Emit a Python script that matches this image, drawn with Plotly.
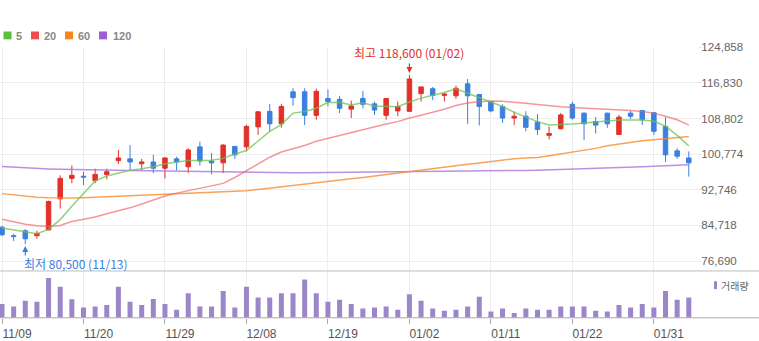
import plotly.graph_objects as go

# Trading days shown on the chart (MM/DD)
dates = [
    "11/09", "11/10", "11/13", "11/14", "11/15", "11/16", "11/17",
    "11/20", "11/21", "11/22", "11/23", "11/24", "11/27", "11/28",
    "11/29", "11/30", "12/01", "12/04", "12/05", "12/06", "12/07",
    "12/08", "12/11", "12/12", "12/13", "12/14", "12/15", "12/18",
    "12/19", "12/20", "12/21", "12/22", "12/26", "12/27", "12/28",
    "01/02", "01/03", "01/04", "01/05", "01/08", "01/09", "01/10",
    "01/11", "01/12", "01/15", "01/16", "01/17", "01/18", "01/19",
    "01/22", "01/23", "01/24", "01/25", "01/26", "01/29", "01/30",
    "01/31", "02/01", "02/02", "02/05",
]

opens = [
    84300, 82400, 83500, 82400, 83700, 90700, 95300,
    95800, 94800, 96200, 99300, 99700, 98600, 99000,
    97600, 99700, 97900, 102400, 99200, 98800, 102500,
    102400, 106900, 110400, 107600, 114800, 114800, 109500,
    113300, 113100, 110900, 113300, 112100, 109500, 110500,
    110400, 114400, 115500, 114000, 113900, 116600, 114200,
    112600, 111500, 108900, 109300, 108000, 105000, 106500,
    112000, 110000, 108100, 110000, 105200, 110000, 110600,
    110100, 107000, 101500, 99900,
]
highs = [
    84600, 82800, 83900, 83500, 90300, 96000, 98200,
    96800, 97500, 97500, 101700, 102800, 99700, 100600,
    100100, 100200, 102100, 103600, 101000, 103000, 102600,
    107400, 110400, 112100, 112100, 115600, 115600, 115500,
    115300, 113900, 112800, 115000, 112600, 113300, 112600,
    118600, 115900, 115900, 114600, 116200, 117700, 114300,
    112600, 112000, 110400, 110400, 109800, 107000, 110000,
    112600, 110100, 109100, 110100, 109600, 110500, 110700,
    110200, 109100, 102100, 101400,
]
lows = [
    82300, 81200, 80500, 81700, 83600, 88500, 94200,
    93800, 94200, 95100, 98600, 97100, 97100, 96500,
    95300, 97100, 96500, 98200, 96200, 96500, 99700,
    101400, 105100, 105900, 106700, 111700, 107300, 108500,
    111500, 110000, 108900, 111100, 109600, 108500, 109300,
    110400, 112600, 112900, 112600, 113200, 107600, 107200,
    110200, 107800, 107300, 105900, 105100, 104100, 106300,
    108500, 103900, 105400, 106700, 105100, 108700, 107300,
    105100, 99000, 99700, 95700,
]
closes = [
    82600, 82200, 81700, 82900, 90100, 95300, 96000,
    95600, 96200, 96800, 99900, 99000, 99000, 97600,
    99900, 99000, 101700, 99200, 98800, 102800, 100600,
    107000, 110300, 107600, 111500, 113500, 109500, 114900,
    112600, 111100, 111600, 112000, 110700, 113300, 111500,
    117700, 115900, 114000, 114300, 115600, 113900, 111500,
    110500, 108900, 109300, 106800, 106300, 105400, 109600,
    108900, 107600, 107300, 107600, 109100, 109300, 108500,
    105900, 100600, 100300, 98800,
]

# Moving averages (5 / 20 / 60 / 120 days)
ma5 = [
    84140, 83750, 83370, 82820, 83820, 86020, 89000,
    91980, 94730, 95840, 96500, 97120, 97490, 97930,
    98600, 99040, 99320, 99320, 99370, 99810, 100800,
    101570, 103780, 105870, 107420, 110000, 110360, 111100,
    112380, 112430, 111830, 112340, 111610, 111460, 111460,
    112490, 113380, 114040, 114630, 115470, 114480, 113660,
    112600, 111500, 110180, 109070, 108080, 107350, 107420,
    107570, 107800, 108020, 108300, 108480, 108460, 108460,
    108150, 107090, 104990, 102630,
]
ma20 = [
    86090, 85510, 84990, 84630, 84480, 84700, 85580,
    86090, 86620, 87350, 88010, 88670, 89550, 90430,
    91320, 91980, 92530, 93080, 93630, 94180, 95510,
    97050, 98710, 100070, 101240, 101900, 102720, 103670,
    104330, 104990, 105660, 106320, 106980, 107530, 108080,
    108900, 109520, 110180, 110880, 111720, 112270, 112560,
    112710, 112650, 112490, 112210, 111940, 111660, 111460,
    111280, 111170, 111020, 110880, 110730, 110570, 110350,
    110000, 109300, 108520, 107310,
]
ma60 = [
    91870, 91540, 91210, 91030, 90940, 90880, 90880,
    90940, 91050, 91160, 91270, 91380, 91490, 91600,
    91710, 91820, 91930, 92040, 92150, 92260, 92400,
    92530, 92820, 93100, 93390, 93680, 93960, 94270,
    94580, 94890, 95200, 95510, 95820, 96150, 96480,
    96810, 97140, 97470, 97800, 98130, 98460, 98790,
    99130, 99460, 99720, 99880, 100030, 100410, 100800,
    101160, 101620, 102060, 102630, 103010, 103450, 103760,
    104000, 104270, 104490, 104710,
]
ma120 = [
    98000, 97820, 97670, 97540, 97430, 97340, 97270,
    97230, 97180, 97140, 97120, 97100, 97050, 97010,
    96960, 96920, 96880, 96830, 96790, 96740, 96700,
    96650, 96610, 96590, 96570, 96570, 96570, 96590,
    96610, 96630, 96650, 96680, 96700, 96720, 96740,
    96770, 96790, 96810, 96830, 96850, 96880, 96920,
    96960, 97010, 97050, 97100, 97160, 97230, 97290,
    97360, 97450, 97540, 97630, 97710, 97820, 97930,
    98040, 98150, 98270, 98380,
]

volumes = [
    700000, 580000, 865000, 815000, 2030000, 1580000, 950000,
    530000, 580000, 650000, 1580000, 815000, 650000, 965000,
    700000, 415000, 1250000, 580000, 580000, 1365000, 530000,
    1580000, 1030000, 1030000, 1250000, 1250000, 1950000, 1250000,
    815000, 915000, 700000, 480000, 530000, 580000, 415000,
    1200000, 865000, 480000, 365000, 415000, 580000, 1080000,
    315000, 480000, 250000, 480000, 415000, 415000, 580000,
    580000, 580000, 365000, 315000, 650000, 530000, 700000,
    530000, 1365000, 915000, 1030000,
]

tick_dates = ["11/09", "11/20", "11/29", "12/08", "12/19",
              "01/02", "01/11", "01/22", "01/31"]
price_ticks = [76690, 84718, 92746, 100774, 108802, 116830, 124858]
ma_names = ["5", "20", "60", "120"]

W, H = 759, 341
RED = "#e2302b"
BLUE = "#3b7fe0"
VOL = "#9b87c8"
GRID = "#ededed"
FONT = "Liberation Sans, Noto Sans CJK KR, sans-serif"
KFONT = "Noto Sans CJK KR, Liberation Sans, sans-serif"
ma_colors = ["#5cbf3b", "#ef4d4d", "#f5861f", "#9d5fd6"]
ma_lines = ["rgba(110,195,80,0.75)", "rgba(240,95,95,0.65)",
            "rgba(247,140,45,0.8)", "rgba(165,105,220,0.75)"]


def fx(p):
    return p / W


def fy(p):
    return 1 - p / H


fig = go.Figure()

fig.add_trace(go.Candlestick(
    x=dates, open=opens, high=highs, low=lows, close=closes,
    increasing=dict(line=dict(color=RED, width=1), fillcolor=RED),
    decreasing=dict(line=dict(color=BLUE, width=1), fillcolor=BLUE),
    whiskerwidth=0, xaxis="x", yaxis="y", showlegend=False, hoverinfo="skip",
))

for vals, col in zip([ma120, ma60, ma20, ma5], ma_lines[::-1]):
    fig.add_trace(go.Scatter(
        x=dates, y=vals, mode="lines", line=dict(color=col, width=1.5),
        xaxis="x", yaxis="y", showlegend=False, hoverinfo="skip",
    ))

fig.add_trace(go.Bar(
    x=dates, y=volumes, marker=dict(color=VOL, line=dict(width=0)),
    xaxis="x2", yaxis="y2", showlegend=False, hoverinfo="skip",
))

x_range = [-0.172, 59.79]
x_dom = [0, fx(698)]
common_x = dict(
    type="category", categoryorder="array", categoryarray=dates,
    range=x_range, domain=x_dom, tickmode="array", tickvals=tick_dates,
    showgrid=True, gridcolor=GRID, gridwidth=1, zeroline=False,
    showline=False, mirror=False, fixedrange=True,
)

fig.update_layout(
    width=W, height=H,
    margin=dict(l=0, r=0, t=0, b=0),
    paper_bgcolor="white", plot_bgcolor="white",
    boxgap=0.45, bargap=0.57,
    font=dict(family=FONT, color="#666666", size=12),
    xaxis=dict(**common_x, anchor="y", showticklabels=False, ticks="",
               rangeslider=dict(visible=False)),
    xaxis2=dict(**common_x, anchor="y2", matches="x", showticklabels=True,
                ticks="outside", ticklen=5, tickcolor="#aaaaaa",
                ticklabelshift=15,
                tickfont=dict(family=FONT, size=12, color="#555555")),
    yaxis=dict(
        domain=[fy(269), fy(41)], range=[74561, 124858], side="right",
        tickmode="array", tickvals=price_ticks,
        ticktext=[f"{v:,}" for v in price_ticks],
        showgrid=True, gridcolor=GRID, zeroline=False, showline=False,
        ticks="outside", ticklen=2, tickcolor="#dddddd",
        ticklabelstandoff=-2,
        tickfont=dict(family=FONT, size=11.6, color="#666666"),
        fixedrange=True,
    ),
    yaxis2=dict(
        domain=[fy(317.3), fy(270)], range=[0, 2365000], side="right",
        showticklabels=False, showgrid=False, zeroline=False,
        showline=False, ticks="", fixedrange=True,
    ),
)

shapes = [
    # panel separator and volume baseline
    dict(type="line", xref="paper", yref="paper", x0=0, x1=1,
         y0=fy(269.5), y1=fy(269.5), line=dict(color="#bcbcbc", width=1)),
    dict(type="line", xref="paper", yref="paper", x0=0, x1=1,
         y0=fy(317.3), y1=fy(317.3), line=dict(color="#aaaaaa", width=1)),
    # volume legend swatch
    dict(type="rect", xref="paper", yref="paper", x0=fx(714), x1=fx(717),
         y0=fy(288), y1=fy(280), line=dict(width=0), fillcolor=VOL),
]

annotations = []
legend_pos = [(3.5, 14), (31, 41.5), (65, 76), (99, 111)]
for (sx, tx), name, col in zip(legend_pos, ma_names, ma_colors):
    shapes.append(dict(type="rect", xref="paper", yref="paper",
                       x0=fx(sx), x1=fx(sx + 8), y0=fy(33), y1=fy(25),
                       line=dict(width=0), fillcolor=col))
    annotations.append(dict(
        xref="paper", yref="paper", x=fx(tx), y=fy(29.5), text=f"<b>{name}</b>",
        showarrow=False, xanchor="left", yanchor="middle",
        font=dict(family=FONT, size=11, color="#888888"),
    ))

annotations.append(dict(
    xref="paper", yref="paper", x=fx(718.5), y=fy(284.5), text="거래량",
    showarrow=False, xanchor="left", yanchor="middle",
    font=dict(family=KFONT, size=10, color="#666666"),
))

# highest high / lowest low markers
ih = max(range(len(highs)), key=lambda i: highs[i])
il = min(range(len(lows)), key=lambda i: lows[i])
hi, lo = highs[ih], lows[il]

annotations += [
    dict(x=dates[ih], y=hi, xref="x", yref="y", text="",
         showarrow=True, ax=0, ay=-13, axref="pixel", ayref="pixel",
         arrowhead=2, arrowsize=1, arrowwidth=1.2, arrowcolor=RED, standoff=2),
    dict(x=dates[ih], y=hi, xref="x", yref="y",
         text=f"최고 {hi:,} ({dates[ih]})", showarrow=False,
         xanchor="center", yanchor="middle", yshift=22,
         font=dict(family=KFONT, size=12, color=RED)),
    dict(x=dates[il], y=lo, xref="x", yref="y", text="",
         showarrow=True, ax=0, ay=13, axref="pixel", ayref="pixel",
         arrowhead=2, arrowsize=1, arrowwidth=1.2, arrowcolor=BLUE, standoff=2),
    dict(x=dates[il], y=lo, xref="x", yref="y",
         text=f"최저 {lo:,} ({dates[il]})", showarrow=False,
         xanchor="left", yanchor="middle", xshift=-3.5, yshift=-19,
         font=dict(family=KFONT, size=12, color=BLUE)),
]

fig.update_layout(shapes=shapes, annotations=annotations)

fig.write_html("out.html")
